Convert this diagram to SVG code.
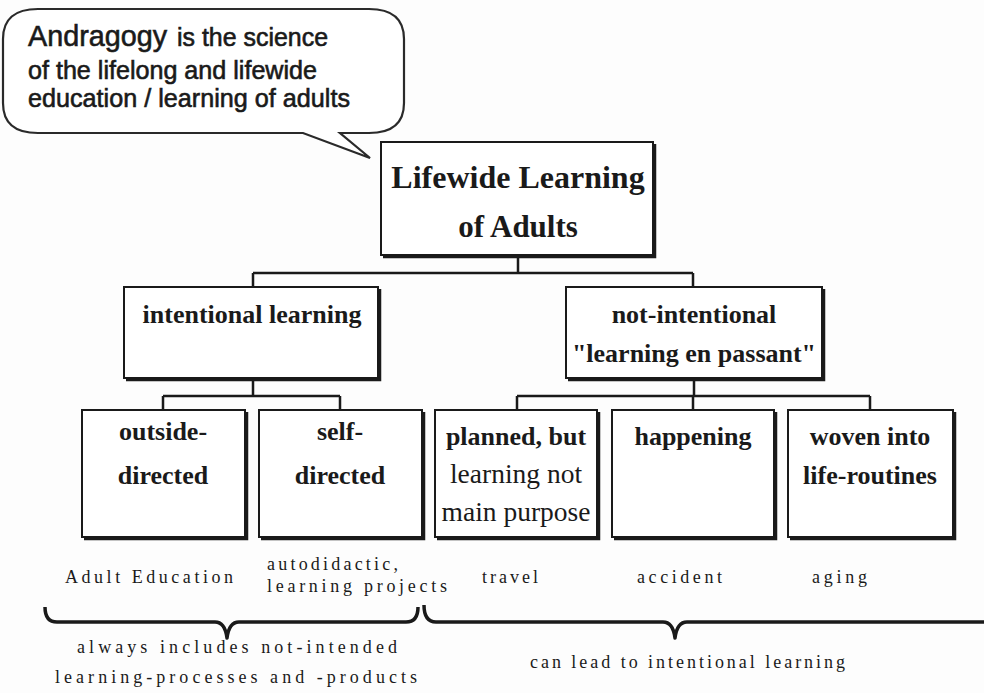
<svg xmlns="http://www.w3.org/2000/svg" width="984" height="693" viewBox="0 0 984 693">
<style>
.box{fill:#fff;stroke:#1a1a1a;stroke-width:2}
.sh{fill:none;stroke:#1a1a1a;stroke-width:2.5}
.con{fill:none;stroke:#1a1a1a;stroke-width:2.5}
.b{font-family:"Liberation Serif",serif;font-weight:bold;fill:#1a1a1a;text-anchor:middle}
.r{font-family:"Liberation Serif",serif;fill:#1a1a1a;text-anchor:middle}
.lab{font-family:"Liberation Serif",serif;font-size:18px;fill:#1a1a1a}
.call{font-family:"Liberation Sans",sans-serif;fill:#1a1a1a;stroke:#1a1a1a;stroke-width:0.6}
.brace{fill:none;stroke:#1a1a1a;stroke-width:3.5;stroke-linejoin:round}
</style>
<rect width="984" height="693" fill="#fdfdfd"/>
<g id="callout">
<path d="M 38,9 H 369 Q 404,9 404,39 V 103 Q 404,133 369,133 H 340 L 370,158 L 303,133 H 38 Q 3,133 3,103 V 39 Q 3,9 38,9 Z" fill="#fff" stroke="#2a2a2a" stroke-width="2.2"/>
<text class="call" x="28" y="46" font-size="30" textLength="139" lengthAdjust="spacingAndGlyphs">Andragogy</text>
<text class="call" x="177" y="46" font-size="25" textLength="151" lengthAdjust="spacingAndGlyphs">is the science</text>
<text class="call" x="28" y="79" font-size="25" textLength="289" lengthAdjust="spacingAndGlyphs">of the lifelong and lifewide</text>
<text class="call" x="28" y="107" font-size="25" textLength="322" lengthAdjust="spacingAndGlyphs">education / learning of adults</text>
</g>
<g id="connectors">
<path class="con" d="M518,255 V273 M253,273 H693 M253,273 V287 M693,273 V287"/>
<path class="con" d="M253,378 V396 M163,396 H340 M163,396 V410 M340,396 V410"/>
<path class="con" d="M694,378 V396 M517,396 H870 M517,396 V410 M693,396 V410 M870,396 V410"/>
</g>
<g id="root">
<rect class="box" x="381" y="142" width="272" height="113"/>
<path class="sh" d="M655,144 V257 H383"/>
<text class="b" x="518" y="188" font-size="32">Lifewide Learning</text>
<text class="b" x="518" y="237" font-size="31">of Adults</text>
</g>
<g id="intentional">
<rect class="box" x="124" y="287" width="254" height="91"/>
<path class="sh" d="M380,289 V380 H126"/>
<text class="b" x="252" y="323" font-size="26">intentional learning</text>
</g>
<g id="notintentional">
<rect class="box" x="566" y="287" width="256" height="91"/>
<path class="sh" d="M824,289 V380 H568"/>
<text class="b" x="694" y="323" font-size="26">not-intentional</text>
<text class="b" x="694" y="362" font-size="26">"learning en passant"</text>
</g>
<g id="outside">
<rect class="box" x="82" y="410" width="163" height="127"/>
<path class="sh" d="M247,412 V539 H84"/>
<text class="b" x="163" y="440" font-size="26">outside-</text>
<text class="b" x="163" y="484" font-size="26">directed</text>
</g>
<g id="self">
<rect class="box" x="259" y="410" width="163" height="127"/>
<path class="sh" d="M424,412 V539 H261"/>
<text class="b" x="340" y="440" font-size="26">self-</text>
<text class="b" x="340" y="484" font-size="26">directed</text>
</g>
<g id="planned">
<rect class="box" x="435" y="410" width="162" height="127"/>
<path class="sh" d="M599,412 V539 H437"/>
<text class="b" x="516" y="445" font-size="26">planned, but</text>
<text class="r" x="516" y="483" font-size="27.5">learning not</text>
<text class="r" x="516" y="521" font-size="27.5">main purpose</text>
</g>
<g id="happening">
<rect class="box" x="612" y="410" width="162" height="127"/>
<path class="sh" d="M776,412 V539 H614"/>
<text class="b" x="693" y="445" font-size="26">happening</text>
</g>
<g id="woven">
<rect class="box" x="788" y="410" width="165" height="127"/>
<path class="sh" d="M955,412 V539 H790"/>
<text class="b" x="870" y="445" font-size="26">woven into</text>
<text class="b" x="870" y="484" font-size="26">life-routines</text>
</g>
<g id="labels">
<text class="lab" x="65" y="583" textLength="168" lengthAdjust="spacing">Adult Education</text>
<text class="lab" x="267" y="570" textLength="131" lengthAdjust="spacing">autodidactic,</text>
<text class="lab" x="267" y="592" textLength="180" lengthAdjust="spacing">learning projects</text>
<text class="lab" x="482" y="583" textLength="56" lengthAdjust="spacing">travel</text>
<text class="lab" x="637" y="583" textLength="85" lengthAdjust="spacing">accident</text>
<text class="lab" x="812" y="583" textLength="55" lengthAdjust="spacing">aging</text>
</g>
<g id="braces">
<path class="brace" d="M45,607 Q45,622 57,622 H215 Q225,622 227,638 Q229,622 239,622 H406 Q418,622 418,607"/>
<path class="brace" d="M424,605 Q424,622 436,622 H663 Q673,622 675,638 Q677,622 687,622 H986"/>
</g>
<g id="notes">
<text class="lab" x="77" y="653" textLength="320" lengthAdjust="spacing">always includes not-intended</text>
<text class="lab" x="55" y="683" textLength="362" lengthAdjust="spacing">learning-processes and -products</text>
<text class="lab" x="530" y="668" textLength="315" lengthAdjust="spacing">can lead to intentional learning</text>
</g>
</svg>
